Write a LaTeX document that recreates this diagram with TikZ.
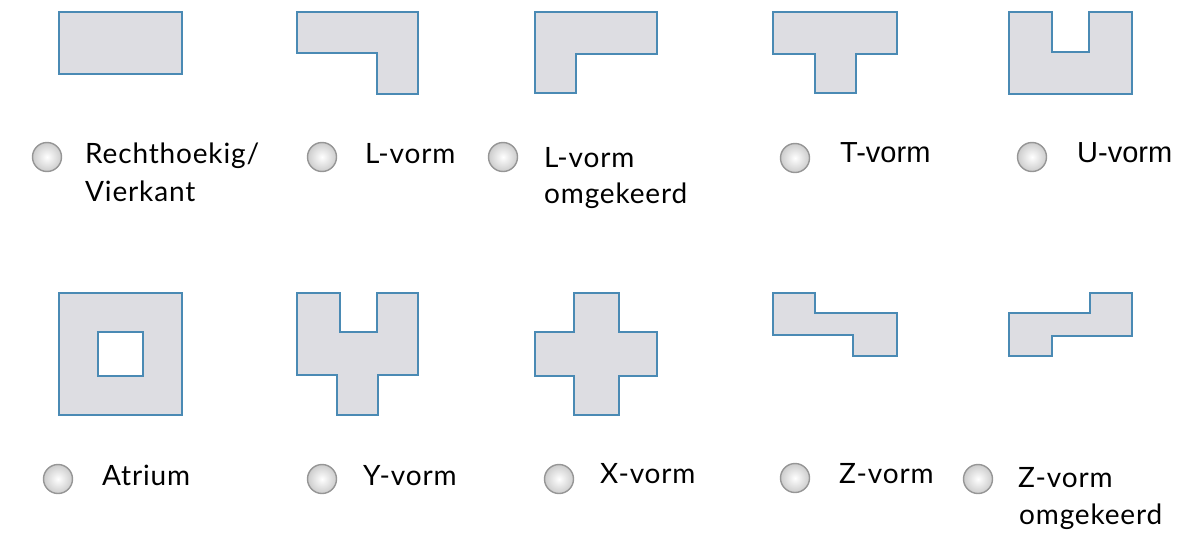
\documentclass[tikz,border=0pt]{standalone}
\usepackage{fontspec}
\setmainfont{Lato}
\newfontfamily\lblfont[LetterSpace=3]{Lato}
\newfontfamily\arialf{Liberation Sans}
\definecolor{shapefill}{RGB}{221,221,226}
\definecolor{shapeline}{RGB}{74,138,180}
\definecolor{radioline}{RGB}{150,150,150}
\begin{document}
\begin{tikzpicture}[x=1pt,y=-1pt,
  plan/.style={draw=shapeline,fill=shapefill,line width=2.8pt,line join=miter},
  radio/.style={circle,draw=radioline,line width=1.4pt,inner color=white,outer color=black!20,minimum size=29pt,inner sep=0pt},
  lbl/.style={anchor=base west,inner sep=0pt,font=\lblfont\fontsize{28}{38}\selectfont,text=black},
  lbla/.style={anchor=base west,inner sep=0pt,font=\arialf\fontsize{29}{38}\selectfont,text=black}]
\useasboundingbox (0,0) rectangle (1204,533);
% row 1 shapes
\draw[plan] (59,12) rectangle (182,74);
\draw[plan] (297,12) -- (418,12) -- (418,94) -- (377,94) -- (377,53) -- (297,53) -- cycle;
\draw[plan] (535,12) -- (657,12) -- (657,54) -- (576,54) -- (576,93) -- (535,93) -- cycle;
\draw[plan] (773,12) -- (897,12) -- (897,54) -- (856,54) -- (856,93) -- (815,93) -- (815,54) -- (773,54) -- cycle;
\draw[plan] (1009,12) -- (1052,12) -- (1052,52) -- (1089,52) -- (1089,12) -- (1132,12) -- (1132,94) -- (1009,94) -- cycle;
% row 2 shapes
\draw[plan,even odd rule] (59,293) rectangle (182,415) (98,332) rectangle (143,376);
\draw[plan] (297,293) -- (340,293) -- (340,332) -- (377,332) -- (377,293) -- (418,293) -- (418,375) -- (378,375) -- (378,415) -- (337,415) -- (337,375) -- (297,375) -- cycle;
\draw[plan] (574,293) -- (619,293) -- (619,332) -- (657,332) -- (657,376) -- (619,376) -- (619,415) -- (574,415) -- (574,376) -- (535,376) -- (535,332) -- (574,332) -- cycle;
\draw[plan] (773,293) -- (815,293) -- (815,313) -- (897,313) -- (897,356) -- (853,356) -- (853,335) -- (773,335) -- cycle;
\draw[plan] (1009,313) -- (1090,313) -- (1090,293) -- (1132,293) -- (1132,336) -- (1052,336) -- (1052,356) -- (1009,356) -- cycle;
% radio buttons
\node[radio] (r1) at (47,157) {};
\node[radio] (r2) at (322,157) {};
\node[radio] (r3) at (503,157) {};
\node[radio] (r4) at (795,158) {};
\node[radio] (r5) at (1032,157) {};
\node[radio] (r6) at (58,479) {};
\node[radio] (r7) at (322,479) {};
\node[radio] (r8) at (559,479) {};
\node[radio] (r9) at (795,478) {};
\node[radio] (r10) at (978,479) {};
% labels
\node[lbl] (t1a) at (85,163) {Rechthoekig/};
\node[lbl] (t1b) at (85,201) {Vierkant};
\node[lbl] (t2) at (365,163) {L-vorm};
\node[lbl] (t3a) at (544,167) {L-vorm};
\node[lbl] (t3b) at (544,203) {omgekeerd};
\node[lbla] (t4) at (840,162) {T-vorm};
\node[lbla] (t5) at (1077,162) {U-vorm};
\node[lbl] (t6) at (102,485) {Atrium};
\node[lbl] (t7) at (363,485) {Y-vorm};
\node[lbl] (t8) at (600,483) {X-vorm};
\node[lbl] (t9) at (839,483) {Z-vorm};
\node[lbl] (t10a) at (1018,487) {Z-vorm};
\node[lbl] (t10b) at (1019,524) {omgekeerd};
\end{tikzpicture}
\end{document}
